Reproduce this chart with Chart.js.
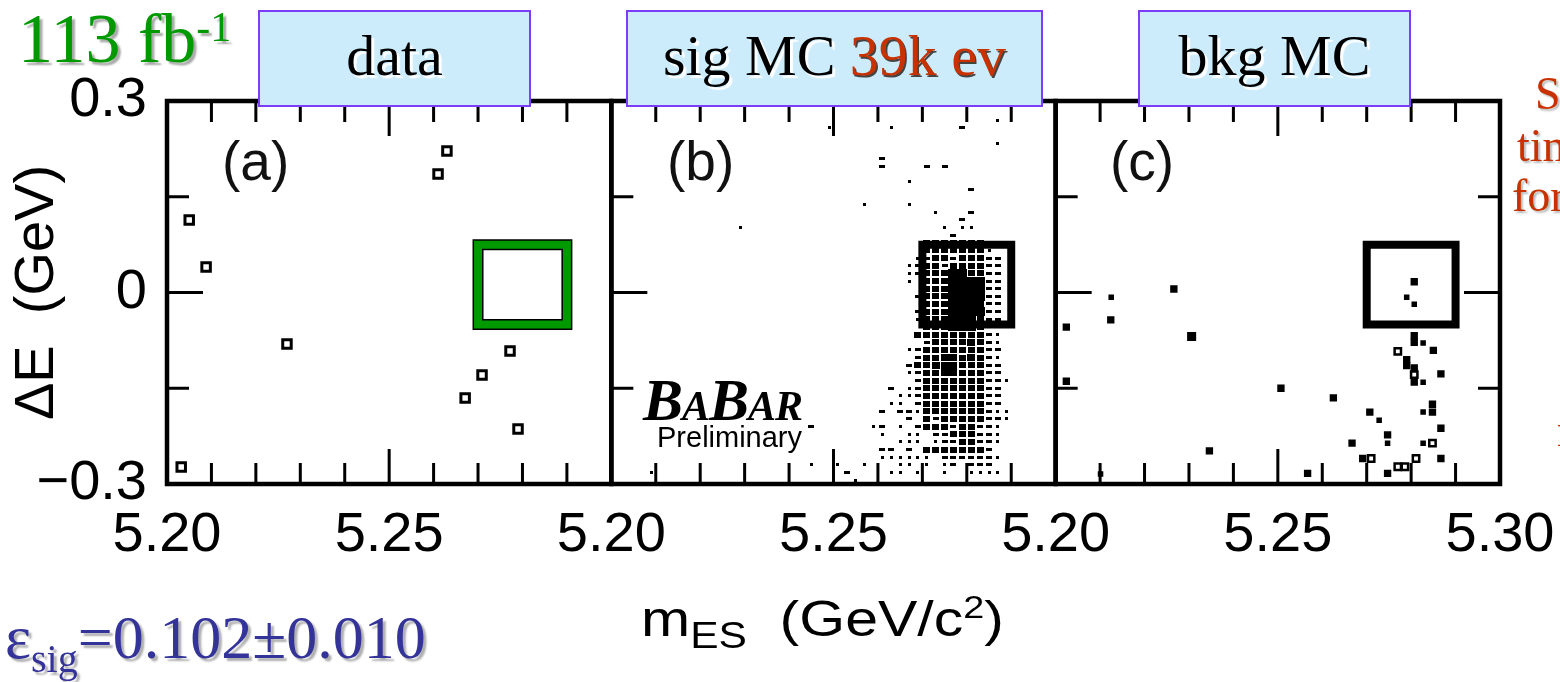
<!DOCTYPE html>
<html>
<head>
<meta charset="utf-8">
<title>ΔE vs mES</title>
<script src="https://cdn.jsdelivr.net/npm/chart.js@4.4.1/dist/chart.umd.min.js"></script>
<style>
  html, body { margin: 0; padding: 0; background: #fff; }
  #wrap { position: relative; width: 1560px; height: 682px; overflow: hidden; background: #fff; }
  #plot { position: absolute; left: 0; top: 0; }
  .t { position: absolute; white-space: nowrap; line-height: 1; }
  .tag { position: absolute; box-sizing: border-box; background: #ccecfc; border: 2px solid #7d3cf5; }
</style>
</head>
<body>
<div id="wrap"><canvas id="plot" width="1560" height="682"></canvas></div>
<script>
// ---------- axis ranges and tick labels ----------
const X_MIN = 5.20, X_MAX = 5.30;          // mES range of every panel (GeV/c^2)
const Y_MIN = -0.30, Y_MAX = 0.30;         // Delta E range (GeV)
const X_MAJOR = 5.25;
const xTickLabelsA = ['5.20', '5.25'];
const xTickLabelsB = ['5.20', '5.25'];
const xTickLabelsC = ['5.20', '5.25', '5.30'];
const yTickValues = ['0.3', '0', '-0.3'];
const yTickTexts  = ['0.3', '0', '\u22120.3'];

// signal region (mES, Delta E)
const sigBoxX = [5.27, 5.29];
const sigBoxY = [-0.05, 0.075];

// ---------- (a) data events ----------
const dataX = [5.2630, 5.2610, 5.2050, 5.2088, 5.2270, 5.2772, 5.2709, 5.2671, 5.2790, 5.2032];
const dataY = [0.2217, 0.1857, 0.1136, 0.0400, -0.0807, -0.0917, -0.1292, -0.1653, -0.2139, -0.2734];

// ---------- (b) signal MC, 50 x 50 bin histogram ----------
// each entry: [Delta E bin (0 = bottom), first mES bin, bin contents level per bin; blank = empty]
const SIG_NX = 50, SIG_NY = 50;
const sigCells = [
  [47, 43, '1'],
  [46, 24, '1'], [46, 31, '1'], [46, 39, '2'],
  [44, 43, '1'],
  [42, 30, '2'],
  [41, 30, '2'], [41, 35, '2 2'],
  [39, 33, '1'],
  [38, 40, '2'],
  [36, 28, '1'], [36, 33, '1'],
  [35, 36, '1'], [35, 40, '2'],
  [34, 39, '2'],
  [33, 14, '1'], [33, 37, '1 11'],
  [32, 38, '2'],
  [31, 35, '3333333'],
  [30, 35, '33333331'],
  [29, 34, '1233233322'],
  [28, 33, '12332333322'],
  [27, 33, '12333553322'],
  [26, 33, '1 333555522'],
  [25, 35, '333555522'],
  [24, 34, '2333545522'],
  [23, 35, '333555422'],
  [22, 34, '2333555522'],
  [21, 34, '1333545322'],
  [20, 35, '333555322'],
  [19, 34, '3333333321'],
  [18, 35, '233334321'],
  [17, 33, '12333333322'],
  [16, 34, '2334434321'],
  [15, 33, '23344433322'],
  [14, 33, '12334433322'],
  [13, 34, '23333333221'],
  [12, 31, '2 12333333322'],
  [11, 32, '112333333322'],
  [10, 31, '11 2333333322'],
  [9, 30, '2 2213333333211'],
  [8, 33, '2 3233333221'],
  [7, 22, '2'], [7, 29, '12 1 2333233221'],
  [6, 30, '1  11 22333221'],
  [5, 32, '111 12233221'],
  [4, 30, '22 2 33333332'],
  [3, 30, '111111 2222221'],
  [2, 22, '1  1  1'], [2, 32, '11 1 12 222'],
  [1, 4, '1'], [1, 26, '2'], [1, 31, '11 1  1  1111'],
  [0, 27, '1']
];

// ---------- (c) background MC ----------
const bkgX = [5.2125, 5.2266, 5.2124, 5.2024, 5.2306, 5.2024, 5.2507, 5.2625, 5.2346, 5.2567,
              5.2707, 5.2728, 5.2747, 5.2747, 5.2667, 5.2691, 5.2747, 5.2827, 5.2867, 5.2867,
              5.2848, 5.2848, 5.2827, 5.2807, 5.2790, 5.2807, 5.2807, 5.2807, 5.2827, 5.2850,
              5.2790, 5.2790, 5.2807, 5.2807, 5.2827, 5.2867, 5.2101];
const bkgY = [-0.0075, 0.0055, -0.0428, -0.0542, -0.0689, -0.1390, -0.1500, -0.1650, -0.2480, -0.2833,
              -0.1873, -0.2002, -0.2231, -0.2360, -0.2360, -0.2600, -0.2833, -0.2360, -0.2127, -0.2600,
              -0.1750, -0.1873, -0.1873, 0.0169, -0.0075, -0.0184, -0.0678, -0.0780, -0.0792, -0.0907,
              -0.1052, -0.1145, -0.1180, -0.1405, -0.1405, -0.1275, -0.2844];
const bkgLevel = [2, 3, 3, 3, 4, 3, 3, 3, 3, 3,
                  3, 2, 3, 2, 3, 3, 3, 2, 3, 3,
                  3, 3, 2, 3, 2, 2, 3, 3, 2, 3,
                  3, 3, 3, 3, 2, 3, 2];
const bkgOpenX = [5.2710, 5.2770, 5.2786, 5.2811, 5.2848, 5.2770, 5.2807];
const bkgOpenY = [-0.2600, -0.2730, -0.2730, -0.2600, -0.2360, -0.0922, -0.1286];

// ---------- helpers ----------
const SANS = "'Liberation Sans', Arial, sans-serif";
const SERIF = "'Liberation Serif', 'Times New Roman', serif";

function boxPath(xs, ys) {
  return [
    { x: xs[0], y: ys[0] }, { x: xs[1], y: ys[0] }, { x: xs[1], y: ys[1] },
    { x: xs[0], y: ys[1] }, { x: xs[0], y: ys[0] }, { x: xs[1], y: ys[0] }
  ];
}

// histogram cells -> points at bin centres
const sigPoints = [];
const dx = (X_MAX - X_MIN) / SIG_NX, dy = (Y_MAX - Y_MIN) / SIG_NY;
sigCells.forEach(([j, i0, s]) => {
  for (let k = 0; k < s.length; k++) {
    if (s[k] === ' ') continue;
    sigPoints.push({ x: X_MIN + dx * (i0 + k + 0.5), y: Y_MIN + dy * (j + 0.5), lv: +s[k] });
  }
});

// box markers for the histogram, one per contents level
const BOX_SIZE = { 1: [3, 3], 2: [6, 3], 3: [7, 6], 4: [8, 7], 5: [10, 9] };
const SPRITES = {};
Object.keys(BOX_SIZE).forEach(l => {
  const [w, h] = BOX_SIZE[l];
  const c = document.createElement('canvas');
  c.width = w; c.height = h;
  const g = c.getContext('2d');
  g.fillStyle = '#000';
  g.fillRect(0, 0, w, h);
  SPRITES[l] = c;
});
const BKG_RADIUS = { 2: 3.9, 3: 5.2, 4: 6.4 };

// ---------- frame + inward ticks drawn from the scales ----------
const framePlugin = {
  id: 'panelFrames',
  afterDatasetsDraw(chart) {
    const ctx = chart.ctx;
    const ys = chart.scales.y;
    const top = ys.top, bottom = ys.bottom;
    const ids = ['xa', 'xb', 'xc'];
    ctx.save();
    ctx.strokeStyle = '#000';
    ctx.lineCap = 'butt';
    ids.forEach((id, n) => {
      const s = chart.scales[id];
      ctx.lineWidth = 3;
      ctx.beginPath();
      s.ticks.forEach(t => {
        if (t.value <= s.min + 1e-9 || t.value >= s.max - 1e-9) return;
        const px = s.getPixelForValue(t.value);
        const len = Math.abs(t.value - X_MAJOR) < 1e-6 ? 35 : 21;
        ctx.moveTo(px, bottom); ctx.lineTo(px, bottom - len);
        ctx.moveTo(px, top); ctx.lineTo(px, top + len);
      });
      ys.ticks.forEach(t => {
        if (t.value <= ys.min + 1e-9 || t.value >= ys.max - 1e-9) return;
        const py = ys.getPixelForValue(t.value);
        const len = Math.abs(t.value) < 1e-6 ? 36 : 22;
        ctx.moveTo(s.left, py); ctx.lineTo(s.left + len, py);
        if (n === ids.length - 1) { ctx.moveTo(s.right, py); ctx.lineTo(s.right - len, py); }
      });
      ctx.stroke();
      ctx.lineWidth = 4.5;
      ctx.strokeRect(s.left, top, s.right - s.left, bottom - top);
    });
    ctx.restore();
  }
};

function xScale(labels) {
  return {
    type: 'linear', position: 'bottom', stack: 'mes', stackWeight: 1,
    min: X_MIN, max: X_MAX, offset: false,
    grid: { display: false, drawTicks: false }, border: { display: false },
    ticks: {
      stepSize: 0.01, autoSkip: false, maxRotation: 0, minRotation: 0, padding: 18,
      font: { family: SANS, size: 56 }, color: '#000',
      callback: v => labels.includes(v.toFixed(2)) ? v.toFixed(2) : ''
    },
    afterFit: s => { s.height = 100; s.paddingLeft = 0; s.paddingRight = 0; }
  };
}

const chart = new Chart(document.getElementById('plot'), {
  type: 'scatter',
  data: {
    datasets: [
      // (a)
      { xAxisID: 'xa', yAxisID: 'y', order: 1,
        data: dataX.map((x, k) => ({ x, y: dataY[k] })),
        pointStyle: 'rect', pointRadius: 6, borderWidth: 3, borderColor: '#000', backgroundColor: '#fff' },
      { xAxisID: 'xa', yAxisID: 'y', order: 3, showLine: true, data: boxPath(sigBoxX, sigBoxY),
        borderColor: '#000', borderWidth: 11, pointRadius: 0, borderJoinStyle: 'miter', tension: 0 },
      { xAxisID: 'xa', yAxisID: 'y', order: 2, showLine: true, data: boxPath(sigBoxX, sigBoxY),
        borderColor: '#009900', borderWidth: 8, pointRadius: 0, borderJoinStyle: 'miter', tension: 0 },
      // (b)
      { xAxisID: 'xb', yAxisID: 'y', order: 5, data: sigPoints,
        pointStyle: c => SPRITES[(c.raw && c.raw.lv) || 1], pointRadius: 3, borderWidth: 0 },
      { xAxisID: 'xb', yAxisID: 'y', order: 2, showLine: true, data: boxPath(sigBoxX, sigBoxY),
        borderColor: '#000', borderWidth: 8, pointRadius: 0, borderJoinStyle: 'miter', tension: 0 },
      // (c)
      { xAxisID: 'xc', yAxisID: 'y', order: 5,
        data: bkgX.map((x, k) => ({ x, y: bkgY[k], lv: bkgLevel[k] })),
        pointStyle: 'rect', pointRadius: c => BKG_RADIUS[(c.raw && c.raw.lv) || 3],
        borderWidth: 0, backgroundColor: '#000' },
      { xAxisID: 'xc', yAxisID: 'y', order: 4,
        data: bkgOpenX.map((x, k) => ({ x, y: bkgOpenY[k] })),
        pointStyle: 'rect', pointRadius: 4.5, borderWidth: 2.5, borderColor: '#000', backgroundColor: '#fff' },
      { xAxisID: 'xc', yAxisID: 'y', order: 2, showLine: true, data: boxPath(sigBoxX, sigBoxY),
        borderColor: '#000', borderWidth: 8, pointRadius: 0, borderJoinStyle: 'miter', tension: 0 }
    ]
  },
  options: {
    responsive: false, animation: false, devicePixelRatio: 1, events: [],
    layout: { padding: { left: 0, top: 101, right: 60, bottom: 98 } },
    plugins: { legend: { display: false }, tooltip: { enabled: false } },
    scales: {
      y: {
        type: 'linear', position: 'left', min: Y_MIN, max: Y_MAX,
        grid: { display: false, drawTicks: false }, border: { display: false },
        ticks: {
          stepSize: 0.15, padding: 20, font: { family: SANS, size: 56 }, color: '#000',
          callback: v => {
            const k = yTickValues.indexOf(String(Math.round(v * 100) / 100));
            return k < 0 ? '' : yTickTexts[k];
          }
        },
        title: { display: true, text: '\u0394E  (GeV)', color: '#000',
                 font: { family: SANS, size: 56 }, padding: { top: 4, bottom: 0 } },
        afterFit: s => { s.width = 167; }
      },
      xa: xScale(xTickLabelsA),
      xb: xScale(xTickLabelsB),
      xc: xScale(xTickLabelsC)
    }
  },
  plugins: [framePlugin]
});

// ---------- slide annotations ----------
const wrap = document.getElementById('wrap');
function put(html, x, base, size, fam, css, center) {
  const d = document.createElement('div');
  d.className = 't';
  d.innerHTML = html;
  const k = fam === SERIF ? 0.8375 : 0.8465;
  d.style.left = x + 'px';
  d.style.top = (base - k * size) + 'px';
  d.style.fontSize = size + 'px';
  d.style.fontFamily = fam;
  if (center) d.style.transform = 'translateX(-50%)';
  if (css) d.style.cssText += css;
  wrap.appendChild(d);
  return d;
}
function tag(x0, x1, y0, y1) {
  const d = document.createElement('div');
  d.className = 'tag';
  d.style.left = x0 + 'px'; d.style.top = y0 + 'px';
  d.style.width = (x1 - x0) + 'px'; d.style.height = (y1 - y0) + 'px';
  wrap.appendChild(d);
}

const lightShadow = 'text-shadow:3px 3px 1px rgba(255,255,255,0.95);color:#000;';
tag(258, 531, 10, 107);
tag(626, 1043, 10, 107);
tag(1138, 1411, 10, 107);
put('data', 394.5, 76, 58, SERIF, lightShadow, true);
put('sig MC <span style="color:#c83200;text-shadow:1.5px 1.5px 0 #444">39k ev</span>', 834.5, 76, 58, SERIF, lightShadow, true);
put('bkg MC', 1274.5, 76, 58, SERIF, lightShadow, true);

put('113 fb<span style="position:relative;top:-21px;font-size:42px">-1</span>', 18, 63, 70, SERIF,
    'color:#009900;text-shadow:3px 3px 2px #a8a8a8;');

put('\u03b5<span style="position:relative;top:14px;font-size:40px">sig</span>=0.102\u00b10.010', 5, 658, 62, SERIF,
    'color:#333399;text-shadow:3px 3px 2px #b0b0b0;');

const red = 'color:#c83200;text-shadow:2px 2px 2px #b8b8b8;';
put('Si', 1535, 110, 46, SERIF, red);
put('time', 1517, 162, 46, SERIF, red);
put('for', 1512, 212, 46, SERIF, red);
put('m', 1557, 447, 46, SERIF, red);

put('(a)', 222, 181, 55, SANS, 'color:#111;');
put('(b)', 667, 181, 55, SANS, 'color:#111;');
put('(c)', 1110, 181, 55, SANS, 'color:#111;');

put('<span>B</span><span style="font-size:42px">A</span><span>B</span><span style="font-size:42px">AR</span>',
    643, 420, 60, SERIF, 'font-style:italic;font-weight:bold;letter-spacing:-1px;color:#000;');
put('Preliminary', 657, 448, 29, SANS, 'color:#000;');

put('m<span style="position:relative;top:12px;font-size:36px">ES</span>&nbsp;&nbsp;(GeV/c<span style="position:relative;top:-18px;font-size:32px">2</span>)',
    641, 636, 50, SANS, 'color:#000;transform:scaleX(1.18);transform-origin:0 0;');
</script>
</body>
</html>
